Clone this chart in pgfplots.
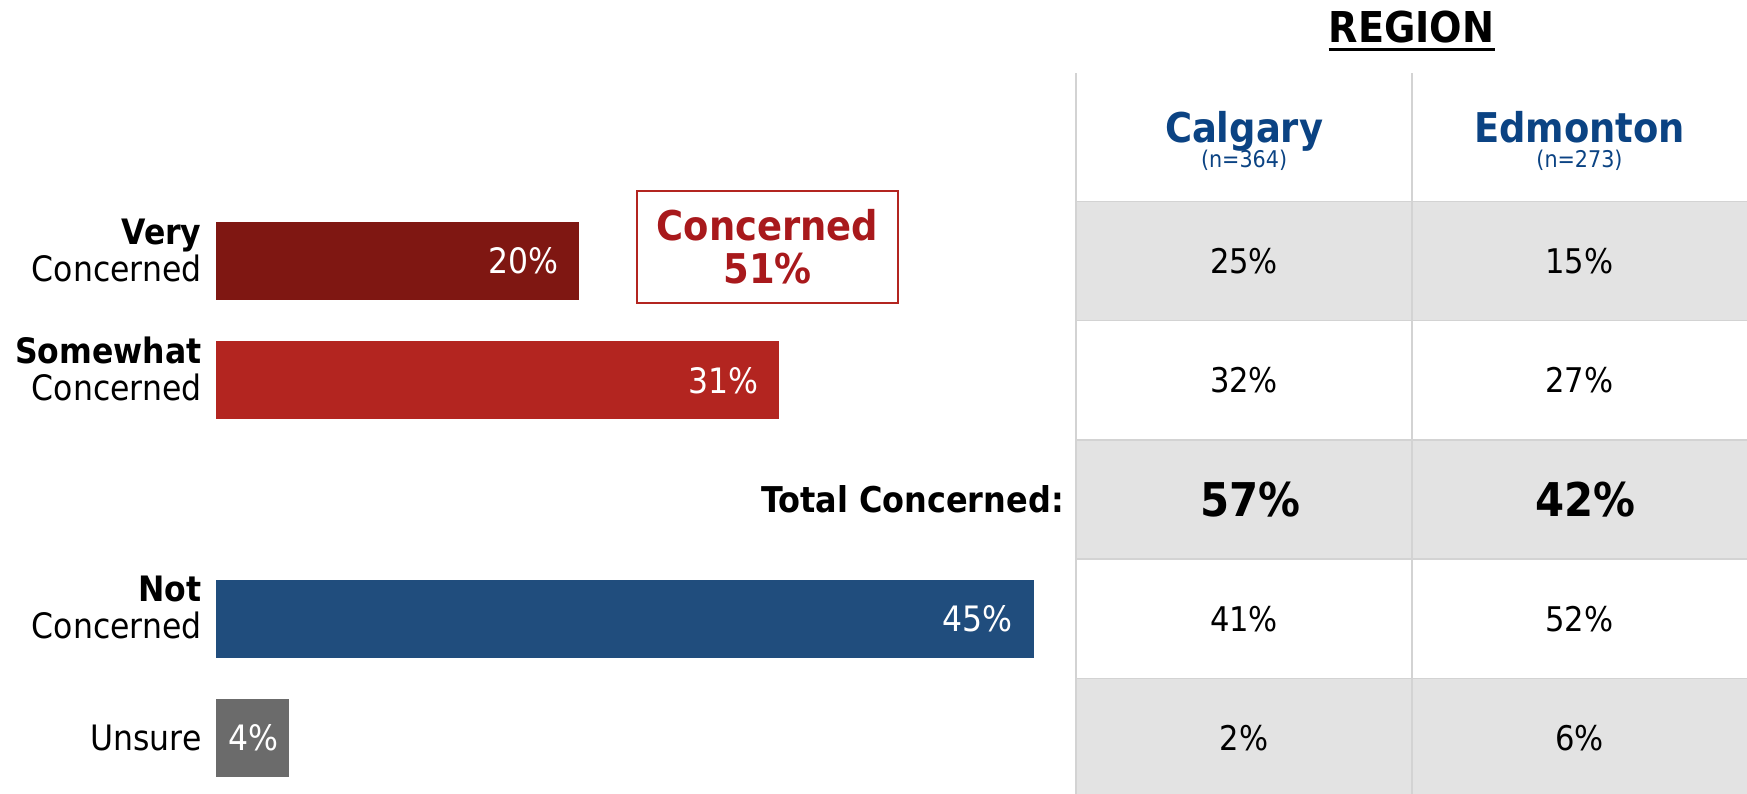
\documentclass[border=0pt]{standalone}
\usepackage{pgfplots}
\pgfplotsset{compat=1.18}
\usepackage{fontspec}
\setmainfont{DejaVu Sans Condensed}
\definecolor{veryred}{HTML}{7F1712}
\definecolor{somered}{HTML}{B32520}
\definecolor{notblue}{HTML}{204D7D}
\definecolor{unsgray}{HTML}{6B6B6B}
\definecolor{boxred}{HTML}{A8191C}
\definecolor{hdrblue}{HTML}{0B4383}
\definecolor{cellgray}{HTML}{E3E3E3}
\definecolor{linegray}{HTML}{D3D3D3}
\begin{document}
\begin{tikzpicture}
\begin{axis}[
 at={(0,0)}, anchor=south west,
 scale only axis, width=1747pt, height=794pt,
 xmin=-11.888, xmax=84.26, ymin=-2.188, ymax=4.468, y dir=reverse,
 hide axis, clip=false,
 xbar, bar width=78pt, bar shift=0pt,
 point meta=x,
 /pgf/number format/assume math mode=true,
 nodes near coords={\pgfmathprintnumber{\pgfplotspointmeta}\%},
 every node near coord/.append style={anchor=east, inner xsep=0pt, xshift=-21pt, text=white, font=\fontsize{35}{38}\selectfont},
]
% table backgrounds
\fill[cellgray] (axis cs:47.33,-0.5) rectangle (axis cs:84.26,0.5);
\fill[cellgray] (axis cs:47.33,1.5) rectangle (axis cs:84.26,2.5);
\fill[cellgray] (axis cs:47.33,3.5) rectangle (axis cs:84.26,4.468);
\draw[linegray, line width=1.5pt] (axis cs:47.33,-0.5) -- (axis cs:84.26,-0.5);
\draw[linegray, line width=1.5pt] (axis cs:47.33,0.5) -- (axis cs:84.26,0.5);
\draw[linegray, line width=1.5pt] (axis cs:47.33,1.5) -- (axis cs:84.26,1.5);
\draw[linegray, line width=1.5pt] (axis cs:47.33,2.5) -- (axis cs:84.26,2.5);
\draw[linegray, line width=1.5pt] (axis cs:47.33,3.5) -- (axis cs:84.26,3.5);
\draw[linegray, line width=2pt] (axis cs:47.33,-1.572) -- (axis cs:47.33,4.468);
\draw[linegray, line width=2pt] (axis cs:65.82,-1.572) -- (axis cs:65.82,4.468);

% bars
\addplot[fill=veryred, draw=none] coordinates {(20,0)};
\addplot[fill=somered, draw=none] coordinates {(31,1)};
\addplot[fill=notblue, draw=none] coordinates {(45,3)};
\addplot[fill=unsgray, draw=none, every node near coord/.append style={xshift=11pt}] coordinates {(4,4)};

% category labels
\node[anchor=east, inner xsep=0pt, align=right, font=\fontsize{35}{37}\selectfont, yshift=11pt] at (axis cs:-0.79,0) {\textbf{Very}\\Concerned};
\node[anchor=east, inner xsep=0pt, align=right, font=\fontsize{35}{37}\selectfont, yshift=11pt] at (axis cs:-0.79,1) {\textbf{Somewhat}\\Concerned};
\node[anchor=east, inner xsep=0pt, align=right, font=\fontsize{35}{37}\selectfont, yshift=11pt] at (axis cs:-0.79,3) {\textbf{Not}\\Concerned};
\node[anchor=east, inner xsep=0pt, font=\fontsize{35}{37}\selectfont] at (axis cs:-0.79,4) {Unsure};

% concerned box
\node[draw=somered, line width=2pt, minimum width=261pt, minimum height=112.5pt, align=center, text=boxred, font=\bfseries\fontsize{41}{43}\selectfont] at (axis cs:30.35,-0.119) {Concerned\\51\%};

% total concerned
\node[anchor=east, inner xsep=0pt, font=\bfseries\fontsize{35.5}{38}\selectfont] at (axis cs:46.67,2) {Total Concerned:};

% header
\node[inner xsep=0pt, font=\bfseries\fontsize{42.5}{45}\selectfont] (reg) at (axis cs:65.80,-1.964) {REGION};
\draw[black, line width=3pt] ([yshift=-7pt]reg.base west) -- ([yshift=-7pt]reg.base east);
\node[anchor=base, inner sep=0pt, font=\bfseries\fontsize{41}{44}\selectfont, text=hdrblue] at (axis cs:56.58,-0.992) {Calgary};
\node[anchor=base, inner sep=0pt, font=\fontsize{23}{25}\selectfont, text=hdrblue] at (axis cs:56.58,-0.783) {(n=364)};
\node[anchor=base, inner sep=0pt, font=\bfseries\fontsize{41}{44}\selectfont, text=hdrblue] at (axis cs:75.04,-0.992) {Edmonton};
\node[anchor=base, inner sep=0pt, font=\fontsize{23}{25}\selectfont, text=hdrblue] at (axis cs:75.04,-0.783) {(n=273)};

% table values
\node[font=\fontsize{34}{37}\selectfont] at (axis cs:56.58,0) {25\%};
\node[font=\fontsize{34}{37}\selectfont] at (axis cs:75.04,0) {15\%};
\node[font=\fontsize{34}{37}\selectfont] at (axis cs:56.58,1) {32\%};
\node[font=\fontsize{34}{37}\selectfont] at (axis cs:75.04,1) {27\%};
\node[font=\bfseries\fontsize{46.5}{48}\selectfont, xshift=6pt] at (axis cs:56.58,2) {57\%};
\node[font=\bfseries\fontsize{46.5}{48}\selectfont, xshift=6pt] at (axis cs:75.04,2) {42\%};
\node[font=\fontsize{34}{37}\selectfont] at (axis cs:56.58,3) {41\%};
\node[font=\fontsize{34}{37}\selectfont] at (axis cs:75.04,3) {52\%};
\node[font=\fontsize{34}{37}\selectfont] at (axis cs:56.58,4) {2\%};
\node[font=\fontsize{34}{37}\selectfont] at (axis cs:75.04,4) {6\%};
\end{axis}
\pgfresetboundingbox
\path[use as bounding box] (0,0) rectangle (1747pt,794pt);
\end{tikzpicture}
\end{document}
